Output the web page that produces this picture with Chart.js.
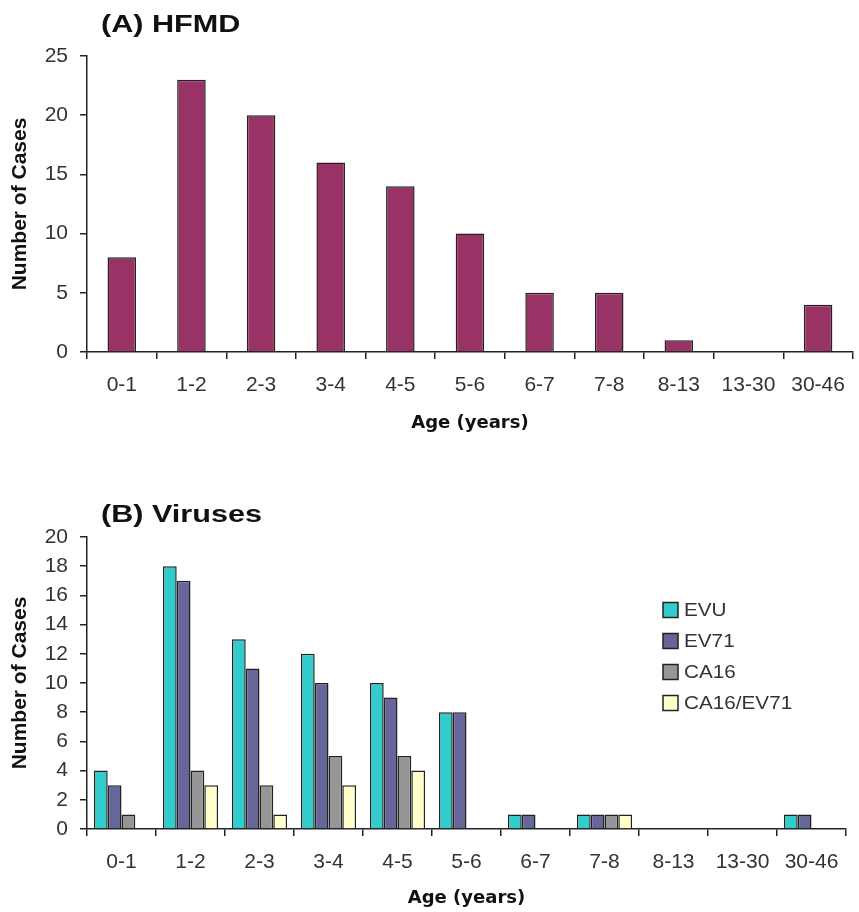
<!DOCTYPE html>
<html><head><meta charset="utf-8">
<script src="https://cdn.jsdelivr.net/npm/chart.js@4.4.0/dist/chart.umd.min.js"></script>
<style>
html,body{margin:0;padding:0;background:#fff;}
#wrap{position:relative;width:859px;height:912px;overflow:hidden;}
canvas{display:block;}
</style></head><body>
<div id="wrap">
<canvas id="cA" width="859" height="455"></canvas>
<canvas id="cB" width="859" height="457"></canvas>
</div>
<script>
// ---- data ----
const ageGroups = ['0-1','1-2','2-3','3-4','4-5','5-6','6-7','7-8','8-13','13-30','30-46'];
const hfmdCases = [8,23,20,16,14,10,5,5,1,0,4];
const virusLabels = ['EVU','EV71','CA16','CA16/EV71'];
const evuCases   = [4,18,13,12,10,8,1,1,0,0,1];
const ev71Cases  = [3,17,11,10,9,8,1,1,0,0,1];
const ca16Cases  = [1,4,3,5,5,0,0,1,0,0,0];
const mixedCases = [0,3,1,3,4,0,0,1,0,0,0];
const yTicksA = [0,5,10,15,20,25];
const yTicksB = [0,2,4,6,8,10,12,14,16,18,20];

const FONT = '"Liberation Sans", Arial, sans-serif';
const INK = '#222';
const LABEL = '#333';

const panelDeco = {
  id: 'panelDeco',
  afterDraw(chart, args, opts) {
    const ctx = chart.ctx;
    if (opts.title) {
      ctx.save();
      ctx.font = 'bold 23px ' + FONT;
      ctx.fillStyle = '#111';
      ctx.textBaseline = 'middle';
      ctx.translate(opts.titleX, opts.titleY);
      ctx.scale(opts.titleScale || 1, 1);
      ctx.fillText(opts.title, 0, 0);
      ctx.restore();
    }
    if (opts.legend) {
      const L = opts.legend;
      chart.data.datasets.forEach((ds, i) => {
        const y = L.y + i * L.spacing;
        ctx.save();
        ctx.fillStyle = ds.backgroundColor;
        ctx.fillRect(L.x, y - L.box / 2, L.box, L.box);
        ctx.strokeStyle = INK;
        ctx.lineWidth = 1.5;
        ctx.strokeRect(L.x, y - L.box / 2, L.box, L.box);
        ctx.font = L.fontSize + 'px ' + FONT;
        ctx.fillStyle = LABEL;
        ctx.textBaseline = 'middle';
        ctx.translate(L.x + L.box + L.gap, y + 1);
        ctx.scale(L.scale, 1);
        ctx.fillText(ds.label, 0, 0);
        ctx.restore();
      });
    }
  }
};

function yScale(max, step, ticksList) {
  return {
    min: 0, max: max,
    afterBuildTicks: (s) => { s.ticks = ticksList.map(v => ({value: v})); },
    afterFit: (s) => { s.width = 87; },
    border: {display: true, color: INK, width: 1.5},
    grid: {drawOnChartArea: false, drawTicks: true, tickLength: 7, color: INK, lineWidth: 1.5},
    ticks: {color: LABEL, font: {family: FONT, size: 21}, padding: 12, stepSize: step},
    title: {display: true, text: 'Number of Cases', color: '#111',
            font: {family: FONT, size: 21, weight: 'bold'}, padding: {top: 8, bottom: 0}}
  };
}
function xScale(height, titlePadBottom) {
  return {
    afterFit: (s) => { s.height = height; },
    border: {display: true, color: INK, width: 1.5},
    grid: {offset: true, drawOnChartArea: false, drawTicks: true, tickLength: 7, color: INK, lineWidth: 1.5},
    ticks: {color: LABEL, font: {family: FONT, size: 21}, padding: 14, maxRotation: 0, autoSkip: false},
    title: {display: true, text: 'Age (years)', color: '#111',
            font: {family: '"DejaVu Sans", Verdana, sans-serif', size: 18, weight: 'bold'},
            padding: {top: 0, bottom: titlePadBottom}}
  };
}

new Chart(document.getElementById('cA'), {
  type: 'bar',
  data: {
    labels: ageGroups,
    datasets: [{
      label: 'HFMD', data: hfmdCases,
      backgroundColor: '#993366', borderColor: INK, borderWidth: 1.5,
      barPercentage: 0.41, categoryPercentage: 1
    }]
  },
  options: {
    responsive: false, animation: false, devicePixelRatio: 1,
    layout: {padding: {top: 56, right: 1, bottom: 0, left: 0}},
    scales: {x: xScale(103, 21), y: yScale(25, 5, yTicksA)},
    plugins: {
      legend: {display: false}, tooltip: {enabled: false},
      panelDeco: {title: '(A) HFMD', titleX: 101, titleY: 26, titleScale: 1.33}
    }
  },
  plugins: [panelDeco]
});

const virusColors = ['#33CCCC', '#666699', '#969696', '#FFFFCC'];
const virusSeries = [evuCases, ev71Cases, ca16Cases, mixedCases];
new Chart(document.getElementById('cB'), {
  type: 'bar',
  data: {
    labels: ageGroups,
    datasets: virusSeries.map((d, i) => ({
      label: virusLabels[i], data: d,
      backgroundColor: virusColors[i], borderColor: INK, borderWidth: 1.5,
      barPercentage: 1, categoryPercentage: 0.8
    }))
  },
  options: {
    responsive: false, animation: false, devicePixelRatio: 1,
    layout: {padding: {top: 82, right: 13, bottom: 0, left: 0}},
    scales: {x: xScale(83, 3), y: yScale(20, 2, yTicksB)},
    plugins: {
      legend: {display: false}, tooltip: {enabled: false},
      panelDeco: {title: '(B) Viruses', titleX: 101, titleY: 61, titleScale: 1.33,
                  legend: {x: 663, y: 155, spacing: 31, box: 15, gap: 6, fontSize: 18, scale: 1.15}}
    }
  },
  plugins: [panelDeco]
});
</script>
</body></html>
